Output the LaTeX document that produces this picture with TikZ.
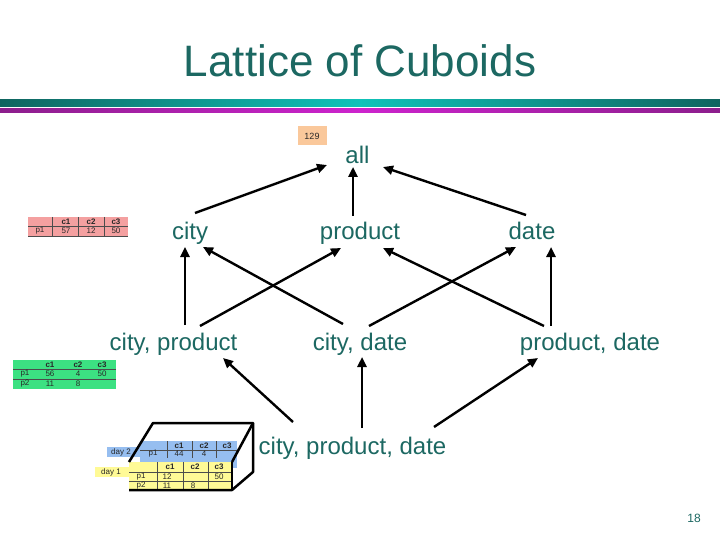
\documentclass[tikz,border=0pt]{standalone}
\usepackage{fontspec}
\setmainfont{Liberation Sans}
\usetikzlibrary{arrows.meta}

\definecolor{tealtext}{RGB}{28,104,98}
\definecolor{cellgray}{RGB}{40,40,40}
\definecolor{pinkcell}{RGB}{244,160,160}
\definecolor{greencell}{RGB}{60,225,130}
\definecolor{bluecell}{RGB}{150,190,240}
\definecolor{yellowcell}{RGB}{255,250,150}
\definecolor{peach}{RGB}{250,200,155}
\definecolor{bardark}{RGB}{15,100,95}
\definecolor{barlight}{RGB}{15,195,185}
\definecolor{magdark}{RGB}{140,30,140}
\definecolor{maglight}{RGB}{205,35,205}

\begin{document}
\begin{tikzpicture}[x=1pt,y=-1pt,>={Triangle[length=10pt,width=9pt]},
  lbl/.style={anchor=base,inner sep=0pt,text=tealtext,font=\fontsize{24}{28}\selectfont},
  arr/.style={->,line width=2.4pt},
  cell/.style={inner sep=0pt,text=cellgray,font=\fontsize{8}{9}\selectfont},
  hcell/.style={cell,font=\fontsize{8}{9}\selectfont\bfseries},
  grid/.style={line width=0.5pt,draw=black!70},
  cube/.style={line width=2.5pt,line join=round}]

\useasboundingbox (0,0) rectangle (720,540);
\fill [white] (0,0) rectangle (720,540);

\node [anchor=base,text=tealtext,font=\fontsize{44}{50}\selectfont] (title) at (360,77) {Lattice of Cuboids};
\shade [left color=bardark,right color=bardark,middle color=barlight] (0,100) rectangle (720,107);
\shade [left color=magdark,right color=magdark,middle color=maglight] (0,109) rectangle (720,113);

\node [fill=peach,minimum width=29pt,minimum height=19pt,inner sep=0pt,text=cellgray,font=\fontsize{9}{10}\selectfont] (cnt) at (312,136) {129};

\node [lbl] at (357.5,164) (all) {all};
\node [lbl] at (190,240) (city) {city};
\node [lbl] at (360,240) (prod) {product};
\node [lbl] at (532,240) (date) {date};
\node [lbl] at (173.5,350) (cp) {city, product};
\node [lbl] at (360,350) (cd) {city, date};
\node [lbl] at (590,350) (pd) {product, date};
\node [lbl] at (352.5,454) (cpd) {city, product, date};

\draw [arr] ([xshift=5pt,yshift=27pt]city.base) -- ([xshift=-30.5pt,yshift=-1pt]all.base);
\draw [arr] ([xshift=-7pt,yshift=24pt]prod.base) -- ([xshift=-4.5pt,yshift=-3pt]all.base);
\draw [arr] ([xshift=-6pt,yshift=25pt]date.base) -- ([xshift=25.5pt,yshift=-3pt]all.base);

\draw [arr] ([xshift=11.5pt,yshift=25pt]cp.base) -- ([xshift=-5pt,yshift=-7pt]city.base);
\draw [arr] ([xshift=26.5pt,yshift=24pt]cp.base) -- ([xshift=-19pt,yshift=-8pt]prod.base);
\draw [arr] ([xshift=-17pt,yshift=26pt]cd.base) -- ([xshift=13pt,yshift=-7pt]city.base);
\draw [arr] ([xshift=9pt,yshift=24pt]cd.base) -- ([xshift=-16pt,yshift=-7pt]date.base);
\draw [arr] ([xshift=-46pt,yshift=24pt]pd.base) -- ([xshift=23pt,yshift=-8pt]prod.base);
\draw [arr] ([xshift=-39pt,yshift=24pt]pd.base) -- ([xshift=19pt,yshift=-7pt]date.base);

\draw [arr] ([xshift=-59.5pt,yshift=32pt]cpd.base) -- ([xshift=49.5pt,yshift=-8pt]cp.base);
\draw [arr] ([xshift=9.5pt,yshift=26pt]cpd.base) -- ([xshift=2pt,yshift=-7pt]cd.base);
\draw [arr] ([xshift=81.5pt,yshift=27pt]cpd.base) -- ([xshift=-52pt,yshift=-8pt]pd.base);

\fill [pinkcell] (28,217) rectangle (128,236);
\draw [grid] (28,226) -- (128,226) (28,236) -- (128,236) (52,217) -- (52,236) (78,217) -- (78,236) (104,217) -- (104,236);
\foreach \x/\t [count=\n] in {66/c1,91/c2,116/c3}
  \node [hcell] (pkh\n) at (\x,221.5) {\t};
\foreach \x/\t [count=\n] in {40/p1,66/57,91/12,116/50}
  \node [cell] (pkr\n) at (\x,231) {\t};

\fill [greencell] (13,360) rectangle (116,389);
\draw [grid] (13,369) -- (116,369) (13,379) -- (116,379);
\foreach \x/\t [count=\n] in {50/c1,78/c2,102/c3}
  \node [hcell] (grh\n) at (\x,364.5) {\t};
\foreach \x/\y/\t [count=\n] in {25/374/p1,50/374/56,78/374/4,102/374/50,25/384/p2,50/384/11,78/384/8}
  \node [cell] (grr\n) at (\x,\y) {\t};

\fill [bluecell] (107,447) rectangle (140,457);
\fill [bluecell] (140,441) rectangle (237,468);
\draw [grid] (140,450) -- (237,450) (167,441) -- (167,458) (192,441) -- (192,458) (216,441) -- (216,458);
\node [cell] (d2) at (121,452) {day 2};
\foreach \x/\t [count=\n] in {179/c1,204/c2,227/c3}
  \node [hcell] (blh\n) at (\x,445.5) {\t};
\foreach \x/\t [count=\n] in {153/p1,179/44,204/4}
  \node [cell] (blr\n) at (\x,454) {\t};

\fill [yellowcell] (95,467) rectangle (129,477);
\fill [yellowcell] (129,462) rectangle (232,490);
\draw [grid] (129,472) -- (232,472) (129,481) -- (232,481) (157,462) -- (157,490) (183,462) -- (183,490) (208,462) -- (208,490);
\node [cell] (d1) at (111,472) {day 1};
\foreach \x/\t [count=\n] in {170/c1,195/c2,219/c3}
  \node [hcell] (ylh\n) at (\x,467) {\t};
\foreach \x/\y/\t [count=\n] in {141/476.5/p1,167/476.5/12,219/476.5/50,141/486/p2,167/486/11,193/486/8}
  \node [cell] (ylr\n) at (\x,\y) {\t};

\draw [cube] (129,462) -- (153,423) -- (253,423) -- (253,472) -- (232,490) -- (129,490);
\draw [cube] (232,462) -- (253,423);
\draw [cube] (232,462) -- (232,490);

\node [text=tealtext,font=\fontsize{12}{14}\selectfont] (pg) at (694,518) {18};

\end{tikzpicture}
\end{document}
